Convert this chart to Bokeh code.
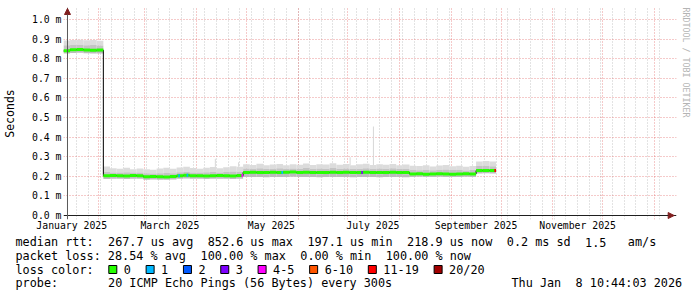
import re
import pandas as pd
from bokeh.plotting import figure
from bokeh.layouts import column
from bokeh.core.properties import value
from bokeh.models import (Range1d, FixedTicker, CustomJSTickFormatter, Title, Span,
                          Arrow, NormalHead)
from bokeh.embed import file_html
from bokeh.resources import INLINE

# ---------------- data (values in milliseconds) ----------------
bin_start = "2025-01-11"          # first 4-day bin
bin_days = 4

med = [0.840, 0.846, 0.847, 0.845, 0.843, 0.844,
       0.203, 0.204, 0.203, 0.202, 0.204, 0.203,
       0.198, 0.199, 0.198, 0.197, 0.199,
       0.203, 0.205, 0.203, 0.203, 0.202, 0.203, 0.204, 0.203, 0.202, 0.204,
       0.220, 0.221, 0.220, 0.219, 0.221, 0.220, 0.221, 0.222, 0.220, 0.221,
       0.220, 0.219, 0.220, 0.221, 0.220, 0.221, 0.219, 0.220, 0.221, 0.220,
       0.219, 0.220, 0.221, 0.220, 0.219,
       0.212, 0.213, 0.211, 0.212, 0.213, 0.212, 0.211, 0.212, 0.213, 0.212,
       0.229, 0.230, 0.229]

hi = [0.893, 0.896, 0.897, 0.894, 0.896, 0.892,
      0.250, 0.241, 0.238, 0.243, 0.236, 0.240,
      0.236, 0.234, 0.240, 0.243, 0.238,
      0.245, 0.249, 0.242, 0.239, 0.243, 0.247, 0.241, 0.246, 0.251, 0.249,
      0.262, 0.258, 0.264, 0.256, 0.260, 0.263, 0.257, 0.261, 0.259, 0.265,
      0.258, 0.262, 0.260, 0.266, 0.259, 0.263, 0.257, 0.261, 0.264, 0.258,
      0.262, 0.259, 0.263, 0.256, 0.260,
      0.254, 0.252, 0.257, 0.250, 0.255, 0.258, 0.251, 0.254, 0.249, 0.253,
      0.276, 0.278, 0.275]

hi2 = [0.868, 0.870, 0.871, 0.869, 0.870, 0.867,
       0.222, 0.220, 0.219, 0.221, 0.219, 0.220,
       0.215, 0.214, 0.216, 0.217, 0.215,
       0.221, 0.223, 0.220, 0.219, 0.221, 0.222, 0.220, 0.222, 0.224, 0.223,
       0.240, 0.238, 0.241, 0.237, 0.239, 0.241, 0.238, 0.240, 0.239, 0.242,
       0.238, 0.240, 0.239, 0.242, 0.238, 0.240, 0.237, 0.239, 0.241, 0.238,
       0.240, 0.239, 0.241, 0.237, 0.239,
       0.232, 0.231, 0.234, 0.231, 0.233, 0.235, 0.232, 0.233, 0.230, 0.232,
       0.252, 0.254, 0.251]

lo1 = [0.834, 0.838, 0.839, 0.837, 0.835, 0.836,
       0.196, 0.197, 0.196, 0.195, 0.197, 0.196,
       0.191, 0.192, 0.191, 0.190, 0.192,
       0.196, 0.198, 0.196, 0.196, 0.195, 0.196, 0.197, 0.196, 0.195, 0.197,
       0.212, 0.213, 0.212, 0.211, 0.213, 0.212, 0.213, 0.214, 0.212, 0.213,
       0.212, 0.211, 0.212, 0.213, 0.212, 0.213, 0.211, 0.212, 0.213, 0.212,
       0.211, 0.212, 0.213, 0.212, 0.211,
       0.205, 0.206, 0.204, 0.205, 0.206, 0.205, 0.204, 0.205, 0.206, 0.205,
       0.222, 0.223, 0.222]

lo = [0.826, 0.829, 0.830, 0.828, 0.826, 0.827,
      0.186, 0.188, 0.187, 0.186, 0.188, 0.187,
      0.183, 0.184, 0.183, 0.182, 0.184,
      0.188, 0.189, 0.187, 0.188, 0.186, 0.187, 0.188, 0.187, 0.186, 0.188,
      0.197, 0.196, 0.197, 0.195, 0.197, 0.196, 0.197, 0.198, 0.196, 0.197,
      0.196, 0.195, 0.196, 0.197, 0.196, 0.197, 0.195, 0.196, 0.197, 0.196,
      0.195, 0.196, 0.197, 0.196, 0.195,
      0.197, 0.198, 0.196, 0.197, 0.198, 0.197, 0.196, 0.197, 0.198, 0.197,
      0.214, 0.215, 0.214]

bin_loss = ["0", "0", "0", "0", "0", "0", "0", "0", "0", "0", "0", "0", "0",
            "0", "0", "0", "0", "0", "0", "0", "0", "0", "0", "0", "0", "0",
            "0", "0", "0", "0", "0", "0", "0", "0", "0", "0", "0", "0", "0",
            "0", "0", "0", "0", "0", "0", "0", "0", "0", "0", "0", "0", "0",
            "0", "0", "0", "0", "0", "0", "0", "0", "0", "0", "0", "0", "0"]

# short loss events (one day each)
event_dates = ["2025-03-21", "2025-03-26", "2025-04-28", "2025-05-22", "2025-07-09", "2025-09-27"]
event_loss = ["1", "1", "4-5", "1", "3", "11-19"]

# isolated smoke spikes
spike_dates = ["2025-04-12", "2025-04-26", "2025-07-02", "2025-07-16"]
spike_vals = [0.290, 0.272, 0.297, 0.454]

loss_labels = ["0", "1", "2", "3", "4-5", "6-10", "11-19", "20/20"]
loss_colors = ["#26ff00", "#00b8ff", "#0059ff", "#7e00ff", "#ff00ff", "#ff5500", "#ff0000", "#a10000"]

y_ticks = [0.0, 0.1, 0.2, 0.3, 0.4, 0.5, 0.6, 0.7, 0.8, 0.9, 1.0]
label_months = ["2025-01-16", "2025-03-16", "2025-05-16", "2025-07-16", "2025-09-16", "2025-11-16"]
month_names = ["January", "February", "March", "April", "May", "June", "July",
               "August", "September", "October", "November", "December"]

footer_lines = ["median rtt:  267.7 us avg  852.6 us max  197.1 us min  218.9 us now  0.2 ms sd  1.5   am/s",
                "packet loss: 28.54 % avg  100.00 % max  0.00 % min  100.00 % now",
                "loss color:",
                "probe:       20 ICMP Echo Pings (56 Bytes) every 300s"]
line_date = "Thu Jan  8 10:44:03 2026"
watermark = "RRDTOOL / TOBI OETIKER"

graph_start = pd.Timestamp("2025-01-13 10:44:03")
graph_end = pd.Timestamp("2026-01-08 10:44:03")

# ---------------- helpers ----------------
def ms(t):
    return pd.Timestamp(t).value / 1e6

color_of = dict(zip(loss_labels, loss_colors))
edges = pd.date_range(bin_start, periods=len(med) + 1, freq=f"{bin_days}D")
left = edges[:-1]
right = edges[1:]

def bin_index(d):
    return int((pd.Timestamp(d) - edges[0]) / pd.Timedelta(days=bin_days))

mono = "DejaVu Sans Mono"

# ---------------- main graph ----------------
# 600 px for 360 days; 196 px per ms.  The frame extends 4 px left/below and
# 10 px right / 8 px above the graph area (room for RRDtool style arrows)
day_per_px = 0.6
unit_per_px = 1.0 / 196.0
x0 = graph_start - pd.Timedelta(days=4 * day_per_px)
x1 = graph_end + pd.Timedelta(days=10 * day_per_px)
y0 = -4 * unit_per_px
y1 = 208 * unit_per_px

p = figure(width=697, height=235, x_axis_type="datetime",
           x_range=Range1d(x0, x1), y_range=Range1d(y0, y1),
           output_backend="svg", toolbar_location=None,
           min_border_left=62, min_border_right=21, min_border_top=7, min_border_bottom=16)
p.outline_line_color = None
p.background_fill_color = "white"
p.border_fill_color = "white"
p.frame_align = False

# grids
p.xgrid.ticker = FixedTicker(
    ticks=[ms(t) for t in pd.date_range("2025-02-01", "2026-01-01", freq="MS")],
    minor_ticks=[ms(t) for t in pd.date_range("2025-01-19", "2026-01-04", freq="W-SUN")])
p.xgrid.grid_line_color = "#DE4F4F"
p.xgrid.grid_line_alpha = 0.6
p.xgrid.grid_line_dash = "1 2"
p.xgrid.minor_grid_line_color = "#8F8F8F"
p.xgrid.minor_grid_line_alpha = 0.5
p.xgrid.minor_grid_line_dash = "1 2"
p.ygrid.ticker = FixedTicker(ticks=y_ticks[1:])
p.ygrid.grid_line_color = "#DE4F4F"
p.ygrid.grid_line_alpha = 0.6
p.ygrid.grid_line_dash = "1 2"

# smoke
p.quad(left=left, right=right, bottom=hi2, top=hi, fill_color="#dcdcdc", line_color=None)
p.quad(left=left, right=right, bottom=med, top=hi2, fill_color="#c4c4c4", line_color=None)
p.quad(left=left, right=right, bottom=lo1, top=med, fill_color="#8e8e8e", line_color=None)
p.quad(left=left, right=right, bottom=lo, top=lo1, fill_color="#bcbcbc", line_color=None)

sp_left = pd.to_datetime(spike_dates)
sp_base = [hi[bin_index(d)] for d in spike_dates]
p.quad(left=sp_left, right=sp_left + pd.Timedelta(hours=14), bottom=sp_base, top=spike_vals,
       fill_color="#d6d6d6", line_color=None)

# median
p.step(x=list(left) + [right[-1]], y=med + [med[-1]], mode="after",
       line_color="#000000", line_width=1)
p.segment(x0=left, y0=med, x1=right, y1=med,
          line_color=[color_of[l] for l in bin_loss], line_width=3)
ev_left = pd.to_datetime(event_dates)
ev_y = [med[bin_index(d)] for d in event_dates]
p.segment(x0=ev_left, y0=ev_y, x1=ev_left + pd.Timedelta(days=1), y1=ev_y,
          line_color=[color_of[l] for l in event_loss], line_width=3)

# axes (labels only; lines drawn as spans)
p.xaxis.ticker = FixedTicker(ticks=[ms(t) for t in label_months])
p.xaxis.formatter = CustomJSTickFormatter(args=dict(names=month_names), code="""
    const d = new Date(tick);
    return names[d.getUTCMonth()] + " " + d.getUTCFullYear();
""")
p.yaxis.ticker = FixedTicker(ticks=y_ticks)
p.yaxis.formatter = CustomJSTickFormatter(code="return tick.toFixed(1) + ' m';")
for ax in (p.xaxis[0], p.yaxis[0]):
    ax.axis_line_color = None
    ax.major_tick_line_color = None
    ax.minor_tick_line_color = None
    ax.major_tick_out = 0
    ax.minor_tick_out = 0
    ax.major_tick_in = 0
    ax.minor_tick_in = 0
    ax.major_label_text_font = mono
    ax.major_label_text_font_size = "9.8px"
    ax.major_label_text_color = "#000000"
p.xaxis.major_label_standoff = 0
p.yaxis.major_label_standoff = 2
p.yaxis.axis_label = "Seconds"
p.yaxis.axis_label_text_font = mono
p.yaxis.axis_label_text_font_size = "11.5px"
p.yaxis.axis_label_text_font_style = "normal"
p.yaxis.axis_label_text_color = "#000000"
p.yaxis.axis_label_standoff = 12

p.add_layout(Span(location=0, dimension="width", line_color="#1f1f1f", line_width=1))
p.add_layout(Span(location=ms(graph_start), dimension="height", line_color="#5a5a5a", line_width=1))
head_c = "#801F1F"
p.add_layout(Arrow(x_start=ms(graph_end), y_start=0,
                   x_end=ms(graph_end + pd.Timedelta(days=4.6)), y_end=0,
                   line_color="#1f1f1f", line_width=1,
                   end=NormalHead(size=6, fill_color=head_c, line_color=head_c)))
p.add_layout(Arrow(x_start=ms(graph_start), y_start=1.0,
                   x_end=ms(graph_start), y_end=207 * unit_per_px,
                   line_color="#5a5a5a", line_width=1,
                   end=NormalHead(size=6, fill_color=head_c, line_color=head_c)))

# watermark on the right
p.add_layout(Title(text=watermark, align="left", text_font=mono, text_font_size="8.3px",
                   text_font_style="normal", text_color="#b4b4b4", standoff=8), "right")

# ---------------- footer (pixel coordinates of the page) ----------------
foot = figure(width=697, height=62, x_range=Range1d(0, 697), y_range=Range1d(297, 235),
              output_backend="svg", toolbar_location=None, min_border=0,
              x_axis_location=None, y_axis_location=None)
foot.grid.visible = False
foot.outline_line_color = None
foot.background_fill_color = "white"
foot.border_fill_color = "white"
foot.frame_align = False

fsize = 11.8
cw = 7.12                 # monospace cell width in px
text_x0 = 15.0
line_y = [241.5, 255.2, 269.0, 282.8]

# split each line at runs of 2+ spaces and place every piece at its column
tx, ty, tt = [], [], []
for line, yy in zip(footer_lines, line_y):
    for m in re.finditer(r"\S+(?: \S+)*", line):
        tx.append(text_x0 + m.start() * cw)
        ty.append(yy)
        tt.append(m.group())
date_x0 = 511.0
for m in re.finditer(r"\S+(?: \S+)*", line_date):
    tx.append(date_x0 + m.start() * cw)
    ty.append(line_y[3])
    tt.append(m.group())
foot.text(x=tx, y=ty, text=tt, text_font=value(mono), text_font_size=value(f"{fsize}px"),
          text_baseline="middle", text_align="left", text_color="#000000")

box_x = []
bx = 108.3
for lab in loss_labels:
    box_x.append(bx)
    bx += 30.2 + cw * len(lab)
foot.quad(left=box_x, right=[b + 8 for b in box_x], top=[line_y[2] - 4] * len(box_x),
          bottom=[line_y[2] + 4] * len(box_x), fill_color=loss_colors,
          line_color="#000000", line_width=1)
foot.text(x=[b + 15 for b in box_x], y=[line_y[2]] * len(box_x), text=loss_labels,
          text_font=value(mono), text_font_size=value(f"{fsize}px"),
          text_baseline="middle", text_align="left", text_color="#000000")

layout = column(p, foot, spacing=0)
open("out.html", "w").write(file_html(layout, INLINE))
